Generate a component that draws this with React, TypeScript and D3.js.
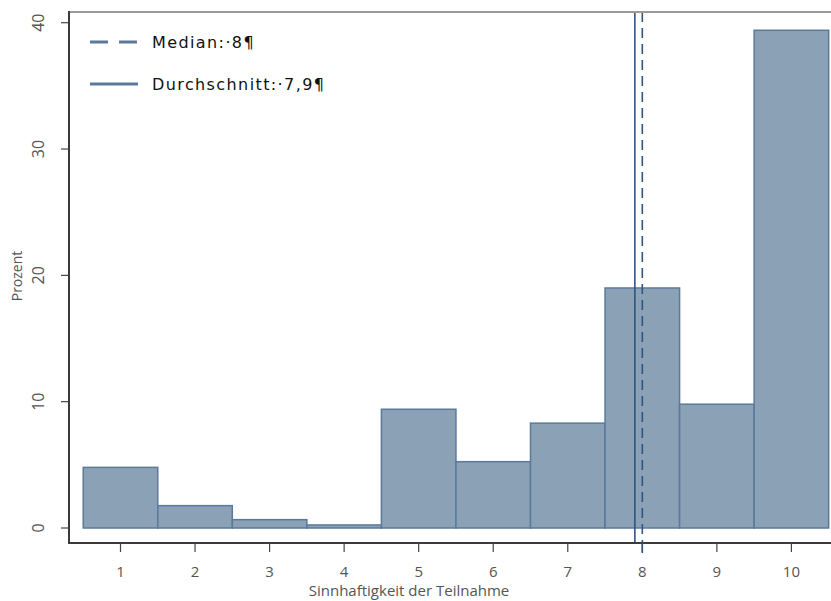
import React from "react";
import * as d3 from "d3";

const categories = [1, 2, 3, 4, 5, 6, 7, 8, 9, 10];
const percents = [4.8, 1.77, 0.66, 0.24, 9.4, 5.25, 8.3, 19.0, 9.8, 39.4];
const yTicks = [0, 10, 20, 30, 40];
const medianValue = 8;
const meanValue = 7.9;
const legendLabels = ["Median:·8¶", "Durchschnitt:·7,9¶"];
const xTitle = "Sinnhaftigkeit der Teilnahme";
const yTitle = "Prozent";

const W = 831;
const H = 601;
const axisLeft = 69;
const axisBottom = 543;
const frameTop = 12;

const x = d3.scaleLinear().domain([1, 10]).range([120.5, 791.4]);
const y = d3.scaleLinear().domain([0, 40]).range([528, 22.7]);

const barFill = "#8aa1b6";
const barStroke = "#5b7a99";
const lineColor = "#2f5580";
const labelFont = "Open Sans, Liberation Sans, sans-serif";

export default function App() {
  const half = (x(2) - x(1)) / 2;
  return (
    <svg width={W} height={H} style={{ position: "absolute", left: 0, top: 0 }}>
      <rect x={0} y={0} width={W} height={H} fill="#fff" />
      {categories.map((c, i) => (
        <rect
          key={c}
          x={x(c) - half}
          y={y(percents[i])}
          width={half * 2}
          height={y(0) - y(percents[i])}
          fill={barFill}
          stroke={barStroke}
          strokeWidth={1.5}
        />
      ))}
      <line x1={x(meanValue)} x2={x(meanValue)} y1={frameTop} y2={axisBottom} stroke={lineColor} strokeWidth={1.6} />
      <line x1={x(medianValue)} x2={x(medianValue)} y1={frameTop} y2={axisBottom} stroke={lineColor} strokeWidth={1.6} strokeDasharray="10,6" />
      <line x1={axisLeft} x2={W} y1={frameTop} y2={frameTop} stroke="#9a9a9a" strokeWidth={2} />
      <line x1={axisLeft} x2={axisLeft} y1={frameTop - 1} y2={axisBottom + 1} stroke="#3a3a3a" strokeWidth={2} />
      <line x1={axisLeft - 1} x2={W} y1={axisBottom} y2={axisBottom} stroke="#3a3a3a" strokeWidth={2} />
      {yTicks.map((t) => (
        <g key={t}>
          <line x1={axisLeft - 8} x2={axisLeft} y1={y(t)} y2={y(t)} stroke="#444" strokeWidth={1.2} />
          <text
            transform={`translate(${44},${y(t)}) rotate(-90)`}
            textAnchor="middle"
            fontFamily={labelFont}
            fontSize={16}
            fill="#555"
          >
            {t}
          </text>
        </g>
      ))}
      {categories.map((c) => (
        <g key={c}>
          <line x1={x(c)} x2={x(c)} y1={axisBottom} y2={axisBottom + 9} stroke="#444" strokeWidth={1.2} />
          <text x={x(c)} y={577} textAnchor="middle" fontFamily={labelFont} fontSize={15} fill="#555">
            {c}
          </text>
        </g>
      ))}
      <line x1={x(medianValue)} x2={x(medianValue)} y1={axisBottom} y2={axisBottom + 10} stroke={lineColor} strokeWidth={1.6} />
      <text x={409} y={596} textAnchor="middle" fontFamily={labelFont} fontSize={15} fill="#555">
        {xTitle}
      </text>
      <text
        transform={`translate(${22},${276}) rotate(-90)`}
        textAnchor="middle"
        fontFamily={labelFont}
        fontSize={14}
        fill="#555"
      >
        {yTitle}
      </text>
      <line x1={90} x2={138} y1={42} y2={42} stroke="#5b7a99" strokeWidth={3} strokeDasharray="18,11" />
      <line x1={90} x2={138} y1={84} y2={84} stroke="#5b7a99" strokeWidth={3} />
      <text x={152} y={48} fontFamily="DejaVu Sans, sans-serif" fontSize={16} letterSpacing={1.4} fill="#111">
        {legendLabels[0]}
      </text>
      <text x={152} y={90} fontFamily="DejaVu Sans, sans-serif" fontSize={16} letterSpacing={1.4} fill="#111">
        {legendLabels[1]}
      </text>
    </svg>
  );
}
